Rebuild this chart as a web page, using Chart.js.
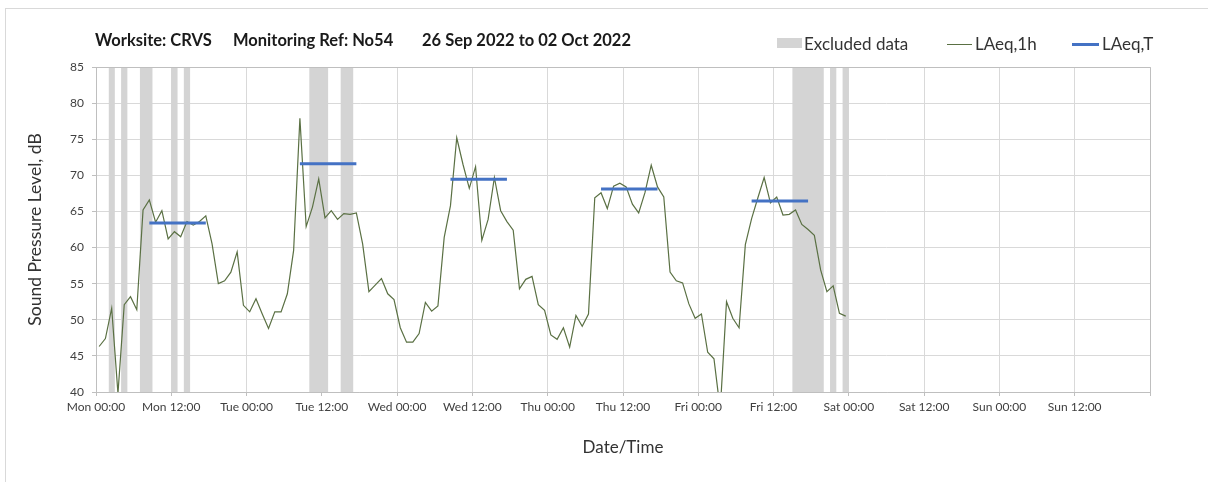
<!DOCTYPE html>
<html>
<head>
<meta charset="utf-8">
<script src="https://cdn.jsdelivr.net/npm/chart.js@4.4.1/dist/chart.umd.min.js"></script>
<style>
  body { margin: 0; background: #fff; }
  #wrap { position: relative; width: 1208px; height: 482px; overflow: hidden; font-family: Lato, sans-serif; }
  #frame { position: absolute; left: 5px; top: 8px; width: 1300px; height: 600px; border-left: 1px solid #d9d9d9; border-top: 1px solid #d9d9d9; }
  #chart { position: absolute; left: 0; top: 0; }
  .title { position: absolute; top: 30px; font-weight: bold; font-size: 16.5px; color: #1a1a1a; white-space: nowrap; }
  .leg { position: absolute; top: 33px; font-size: 17px; color: #333; white-space: nowrap; }
  .sw { position: absolute; }
</style>
</head>
<body>
<div id="wrap">
  <div id="frame"></div>
  <canvas id="chart" width="1208" height="482"></canvas>
  <span class="title" style="left:95px">Worksite: CRVS</span>
  <span class="title" style="left:233px">Monitoring Ref: No54</span>
  <span class="title" style="left:422px">26 Sep 2022 to 02 Oct 2022</span>

  <div class="sw" style="left:777px;top:38px;width:25px;height:10px;background:#d4d4d4"></div>
  <span class="leg" style="left:804px">Excluded data</span>
  <div class="sw" style="left:947px;top:44px;width:25px;height:1px;background:#5a7043"></div>
  <span class="leg" style="left:975px">LAeq,1h</span>
  <div class="sw" style="left:1072px;top:43px;width:27px;height:3px;background:#4472c4"></div>
  <span class="leg" style="left:1102px">LAeq,T</span>
</div>
<script>
document.addEventListener("DOMContentLoaded", function() {

    // Etichette asse X (ogni 12 ore, da lunedi 00:00)
    const tickLabels = ['Mon 00:00', 'Mon 12:00', 'Tue 00:00', 'Tue 12:00', 'Wed 00:00', 'Wed 12:00',
        'Thu 00:00', 'Thu 12:00', 'Fri 00:00', 'Fri 12:00', 'Sat 00:00', 'Sat 12:00',
        'Sun 00:00', 'Sun 12:00', ''];

    // LAeq,1h in dB, un valore per ogni ora da Mon 00:00
    const laeq1h = [
        46.3, 47.4, 51.6, 39.8, 52.1, 53.2, 51.4, 65.2, 66.6, 63.5,
        65.1, 61.2, 62.2, 61.5, 63.6, 63.1, 63.6, 64.4, 60.5, 55.0,
        55.4, 56.6, 59.4, 52.0, 51.1, 52.9, 50.8, 48.8, 51.1, 51.1,
        53.6, 59.6, 77.9, 62.9, 65.6, 69.5, 64.1, 65.1, 63.9, 64.7,
        64.6, 64.8, 60.5, 53.9, 54.8, 55.7, 53.6, 52.8, 48.9, 46.9,
        46.9, 48.1, 52.4, 51.2, 51.9, 61.4, 65.8, 75.2, 71.5, 68.2,
        71.2, 61.0, 63.9, 69.7, 65.1, 63.6, 62.4, 54.3, 55.6, 56.0,
        52.1, 51.3, 47.9, 47.3, 48.9, 46.2, 50.6, 49.1, 50.8, 66.9,
        67.6, 65.4, 68.5, 68.9, 68.4, 66.0, 64.8, 67.6, 71.4, 68.4,
        67.0, 56.6, 55.4, 55.1, 52.2, 50.2, 50.8, 45.5, 44.6, 37.5,
        52.5, 50.2, 48.9, 60.4, 64.0, 66.9, 69.7, 66.2, 67.0, 64.5,
        64.6, 65.2, 63.2, 62.5, 61.7, 56.9, 53.9, 54.7, 50.9, 50.5
    ];

    // LAeq,T diurno (ore dall'inizio della settimana)
    const periodStart = [8.5, 32.5, 56.5, 80.5, 104.5];
    const periodEnd = [17.5, 41.5, 65.5, 89.5, 113.5];
    const laeqT = [63.4, 71.6, 69.45, 68.1, 66.45];

    // Dati esclusi (ore)
    const excludedStart = [2, 4, 7, 12, 14, 34, 39, 111, 117, 119];
    const excludedEnd = [3, 5, 9, 13, 15, 37, 41, 116, 118, 120];

    const yMin = 40;
    const yMax = 85;

    // Punti a meta' ora
    const punti1h = laeq1h.map((v, i) => ({ x: i + 0.5, y: v }));

    const puntiT = [];
    periodStart.forEach((s, k) => {
        puntiT.push({ x: s, y: laeqT[k] });
        puntiT.push({ x: periodEnd[k], y: laeqT[k] });
        puntiT.push({ x: periodEnd[k] + 1, y: null });
    });

    const puntiEsclusi = [];
    excludedStart.forEach((s, k) => {
        puntiEsclusi.push({ x: s, y: yMin }, { x: s, y: yMax },
            { x: excludedEnd[k], y: yMax }, { x: excludedEnd[k], y: yMin });
    });

    // Bordo superiore e destro dell'area del grafico
    const bordoArea = {
        id: 'bordoArea',
        afterDraw(chart) {
            const { ctx, chartArea } = chart;
            ctx.save();
            ctx.strokeStyle = '#bfbfbf';
            ctx.lineWidth = 1;
            ctx.beginPath();
            ctx.moveTo(Math.round(chartArea.left) + 0.5, Math.round(chartArea.top) + 0.5);
            ctx.lineTo(Math.round(chartArea.right) + 0.5, Math.round(chartArea.top) + 0.5);
            ctx.lineTo(Math.round(chartArea.right) + 0.5, Math.round(chartArea.bottom) + 0.5);
            ctx.stroke();
            ctx.restore();
        }
    };

    const ctx = document.getElementById('chart').getContext('2d');
    new Chart(ctx, {
        type: 'line',
        data: {
            datasets: [
                {
                    label: 'LAeq,T',
                    data: puntiT,
                    borderColor: '#4472c4',
                    borderWidth: 3,
                    pointRadius: 0,
                    spanGaps: false,
                    order: 1
                },
                {
                    label: 'LAeq,1h',
                    data: punti1h,
                    borderColor: '#5a7043',
                    borderWidth: 1.2,
                    pointRadius: 0,
                    tension: 0,
                    order: 2
                },
                {
                    label: 'Excluded data',
                    data: puntiEsclusi,
                    borderWidth: 0,
                    backgroundColor: '#d4d4d4',
                    fill: 'start',
                    pointRadius: 0,
                    order: 3
                }
            ]
        },
        options: {
            responsive: false,
            animation: false,
            layout: { padding: { left: 0, right: 58, top: 67, bottom: 0 } },
            plugins: {
                legend: { display: false },
                tooltip: { enabled: false }
            },
            scales: {
                x: {
                    type: 'linear',
                    min: 0,
                    max: 168,
                    afterFit: s => { s.height = 90; },
                    ticks: {
                        stepSize: 12,
                        autoSkip: false,
                        maxRotation: 0,
                        padding: 4,
                        color: '#404040',
                        font: { family: 'Lato', size: 12 },
                        callback: v => tickLabels[v / 12]
                    },
                    grid: { color: '#d9d9d9', tickColor: '#bfbfbf', tickLength: 4 },
                    border: { color: '#bfbfbf' },
                    title: {
                        display: true,
                        text: 'Date/Time',
                        color: '#333',
                        font: { family: 'Lato', size: 17 },
                        padding: { bottom: 24 }
                    }
                },
                y: {
                    min: yMin,
                    max: yMax,
                    afterFit: s => { s.width = 96; },
                    ticks: {
                        stepSize: 5,
                        padding: 8,
                        color: '#404040',
                        font: { family: 'Lato', size: 12 }
                    },
                    grid: { color: '#d9d9d9', tickColor: '#bfbfbf', tickLength: 4 },
                    border: { color: '#bfbfbf' },
                    title: {
                        display: true,
                        text: 'Sound Pressure Level, dB',
                        color: '#333',
                        font: { family: 'Lato', size: 17.5 },
                        padding: { top: 25 }
                    }
                }
            }
        },
        plugins: [bordoArea]
    });
});
</script>
</body>
</html>
